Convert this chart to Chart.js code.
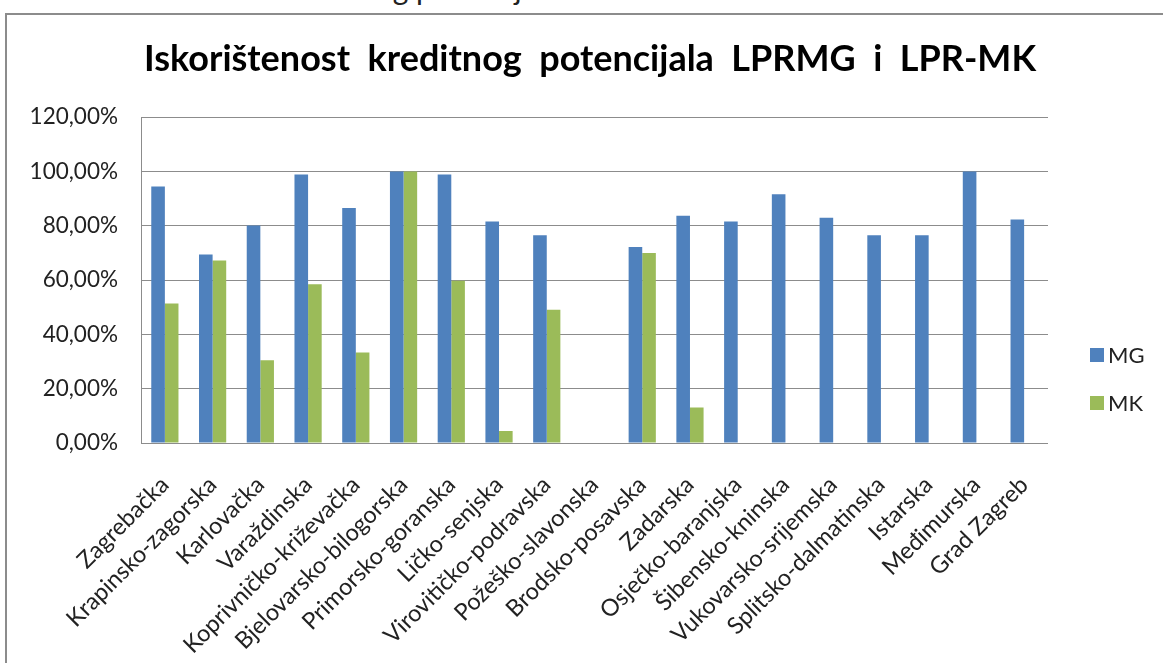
<!DOCTYPE html>
<html>
<head>
<meta charset="utf-8">
<script src="https://cdn.jsdelivr.net/npm/chart.js@4.4.0/dist/chart.umd.min.js"></script>
<style>
  body { margin: 0; background: #fff; overflow: hidden; }
  #wrap { position: relative; width: 1163px; height: 663px; overflow: hidden; }
  #frame { position: absolute; left: 5px; top: 13px; width: 1170px; height: 670px; border: 2px solid #8c8c8c; box-sizing: border-box; }
  #above { position: absolute; left: 283px; top: -30px; font: 30px Lato, sans-serif; color: #222; white-space: nowrap; }
  canvas { position: absolute; left: 0; top: 0; }
</style>
</head>
<body>
<div id="wrap">
  <div id="above">kreditnog potencijala</div>
  <div id="frame"></div>
  <canvas id="chart" width="1163" height="663"></canvas>
</div>
<script>
const zupanije = ['Zagrebačka', 'Krapinsko-zagorska', 'Karlovačka', 'Varaždinska', 'Koprivničko-križevačka',
  'Bjelovarsko-bilogorska', 'Primorsko-goranska', 'Ličko-senjska', 'Virovitičko-podravska', 'Požeško-slavonska',
  'Brodsko-posavska', 'Zadarska', 'Osječko-baranjska', 'Šibensko-kninska', 'Vukovarsko-srijemska',
  'Splitsko-dalmatinska', 'Istarska', 'Međimurska', 'Grad Zagreb'];

// postotci (%)
const mg = [94.5, 69.4, 80.1, 98.9, 86.6, 100, 98.9, 81.6, 76.5, null, 72.2, 83.7, 81.6, 91.6, 83.0, 76.5, 76.5, 100, 82.3];
const mk = [51.4, 67.2, 30.5, 58.5, 33.3, 100, 59.8, 4.4, 49.1, null, 70.0, 13.1, null, null, null, null, null, null, null];

const yTicks = [0, 20, 40, 60, 80, 100, 120];

const boja = { mg: '#4F81BD', mk: '#9BBB59', grid: '#8c8c8c', text: '#222222' };

// legenda desno, malo ispod sredine kao u Excelu
const sideLegend = {
  id: 'sideLegend',
  afterLayout(chart) {
    // naslov centriran iznad grafa, ne iznad cijelog platna
    chart.titleBlock.left = 132;
  },
  afterDraw(chart) {
    const ctx = chart.ctx;
    ctx.save();
    chart.data.datasets.forEach((ds, i) => {
      const y = 355 + i * 48;
      ctx.fillStyle = ds.backgroundColor;
      ctx.fillRect(1090, y - 7, 14, 14);
      ctx.fillStyle = boja.text;
      ctx.font = '22px Lato';
      ctx.textBaseline = 'middle';
      ctx.fillText(ds.label, 1108, y + 1);
    });
    ctx.restore();
  }
};

new Chart(document.getElementById('chart'), {
  type: 'bar',
  data: {
    labels: zupanije,
    datasets: [
      { label: 'MG', data: mg, backgroundColor: boja.mg },
      { label: 'MK', data: mk, backgroundColor: boja.mk }
    ]
  },
  options: {
    responsive: false,
    animation: false,
    layout: { padding: { left: 0, right: 115, top: 0, bottom: 0 } },
    categoryPercentage: 0.57,
    barPercentage: 1,
    plugins: {
      legend: { display: false },
      tooltip: { enabled: false },
      title: {
        display: true,
        text: 'Iskorištenost  kreditnog  potencijala  LPRMG  i  LPR-MK',
        color: '#000',
        font: { family: 'Lato', size: 36, weight: 'bold' },
        padding: { top: 38, bottom: 36 }
      }
    },
    scales: {
      x: {
        grid: { display: false },
        border: { display: false },
        afterFit: s => { s.height = 220; },
        ticks: {
          autoSkip: false,
          minRotation: 45,
          maxRotation: 45,
          padding: 20,
          color: boja.text,
          font: { family: 'Lato', size: 23.5 }
        }
      },
      y: {
        min: 0,
        max: 120,
        afterFit: s => { s.width = 141; },
        afterBuildTicks: s => { s.ticks = yTicks.map(v => ({ value: v })); },
        grid: { color: boja.grid, lineWidth: 1, drawTicks: false },
        border: { display: true, color: boja.grid, width: 1 },
        ticks: {
          padding: 23,
          color: boja.text,
          font: { family: 'Lato', size: 22.5 },
          callback: v => v.toFixed(2).replace('.', ',') + '%'
        }
      }
    }
  },
  plugins: [sideLegend]
});
</script>
</body>
</html>
